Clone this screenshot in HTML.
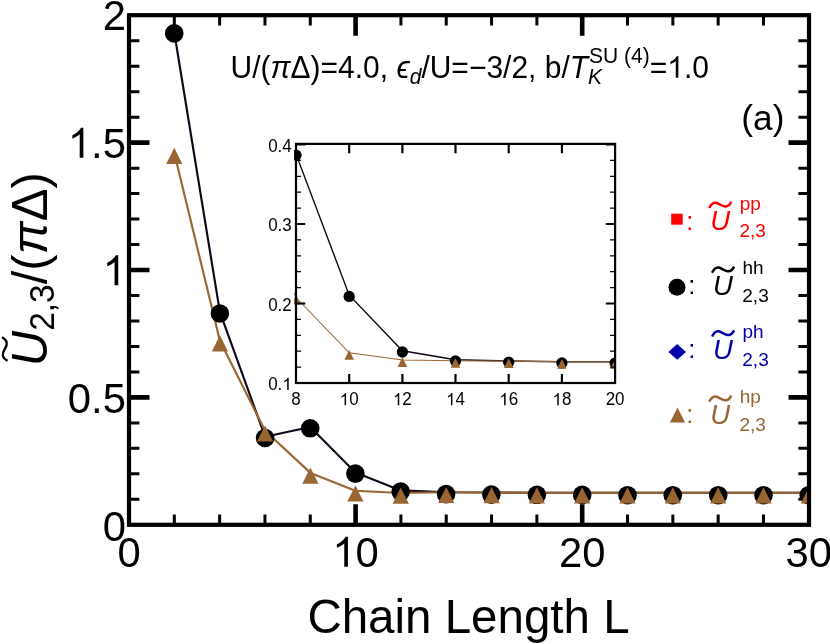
<!DOCTYPE html><html><head><meta charset="utf-8"><style>html,body{margin:0;padding:0;background:#fff}svg{display:block;will-change:transform}text{font-family:"Liberation Sans",sans-serif}</style></head><body>
<svg width="830" height="644" viewBox="0 0 830 644">
<rect width="830" height="644" fill="#fff"/>
<g stroke="#000" fill="none"><path d="M174.32 524.8V514.5M174.32 15.2V25.6" stroke-width="3"/><path d="M219.64 524.8V514.5M219.64 15.2V25.6" stroke-width="3"/><path d="M264.96 524.8V514.5M264.96 15.2V25.6" stroke-width="3"/><path d="M310.28 524.8V514.5M310.28 15.2V25.6" stroke-width="3"/><path d="M355.60 524.8V504.29999999999995M355.60 15.2V35.7" stroke-width="4.6"/><path d="M400.92 524.8V514.5M400.92 15.2V25.6" stroke-width="3"/><path d="M446.24 524.8V514.5M446.24 15.2V25.6" stroke-width="3"/><path d="M491.56 524.8V514.5M491.56 15.2V25.6" stroke-width="3"/><path d="M536.88 524.8V514.5M536.88 15.2V25.6" stroke-width="3"/><path d="M582.20 524.8V504.29999999999995M582.20 15.2V35.7" stroke-width="4.6"/><path d="M627.52 524.8V514.5M627.52 15.2V25.6" stroke-width="3"/><path d="M672.84 524.8V514.5M672.84 15.2V25.6" stroke-width="3"/><path d="M718.16 524.8V514.5M718.16 15.2V25.6" stroke-width="3"/><path d="M763.48 524.8V514.5M763.48 15.2V25.6" stroke-width="3"/><path d="M129 499.32H139.4M809 499.32H798.4" stroke-width="3"/><path d="M129 473.85H139.4M809 473.85H798.4" stroke-width="3"/><path d="M129 448.37H139.4M809 448.37H798.4" stroke-width="3"/><path d="M129 422.90H139.4M809 422.90H798.4" stroke-width="3"/><path d="M129 397.42H149.5M809 397.42H788.5" stroke-width="4.6"/><path d="M129 371.95H139.4M809 371.95H798.4" stroke-width="3"/><path d="M129 346.47H139.4M809 346.47H798.4" stroke-width="3"/><path d="M129 321.00H139.4M809 321.00H798.4" stroke-width="3"/><path d="M129 295.52H139.4M809 295.52H798.4" stroke-width="3"/><path d="M129 270.05H149.5M809 270.05H788.5" stroke-width="4.6"/><path d="M129 244.57H139.4M809 244.57H798.4" stroke-width="3"/><path d="M129 219.10H139.4M809 219.10H798.4" stroke-width="3"/><path d="M129 193.62H139.4M809 193.62H798.4" stroke-width="3"/><path d="M129 168.15H139.4M809 168.15H798.4" stroke-width="3"/><path d="M129 142.67H149.5M809 142.67H788.5" stroke-width="4.6"/><path d="M129 117.20H139.4M809 117.20H798.4" stroke-width="3"/><path d="M129 91.72H139.4M809 91.72H798.4" stroke-width="3"/><path d="M129 66.25H139.4M809 66.25H798.4" stroke-width="3"/><path d="M129 40.77H139.4M809 40.77H798.4" stroke-width="3"/></g>
<clipPath id="cm"><rect x="127" y="13" width="684" height="514"/></clipPath>
<g clip-path="url(#cm)">
<polyline fill="none" stroke="#10061a" stroke-width="2.15" stroke-linejoin="round" points="174.2,32.0 219.9,312.2 265.1,436.8 310.2,427.0 355.4,472.4 400.7,490.4 446.2,492.3 491.6,492.5 536.9,492.7 582.2,492.7 627.5,492.7 672.8,492.7 718.2,492.7 763.5,492.7 808.8,492.7"/>
<polyline fill="none" stroke="#996633" stroke-width="2.15" stroke-linejoin="round" points="174.3,153.1 219.9,340.7 265.1,430.8 310.4,472.9 355.4,490.8 400.7,493.0 446.2,492.3 491.6,492.5 536.9,492.7 582.2,492.7 627.5,492.7 672.8,492.7 718.2,492.7 763.5,492.7 808.8,492.7"/>
<circle cx="174.2" cy="33.4" r="9.3" fill="#000"/>
<circle cx="219.9" cy="313.5" r="9.3" fill="#000"/>
<circle cx="265.1" cy="438.0" r="9.3" fill="#000"/>
<circle cx="310.2" cy="428.3" r="9.3" fill="#000"/>
<circle cx="355.4" cy="473.6" r="9.3" fill="#000"/>
<circle cx="400.7" cy="491.6" r="9.3" fill="#000"/>
<circle cx="446.1" cy="494.1" r="9.3" fill="#000"/>
<circle cx="491.4" cy="494.6" r="9.3" fill="#000"/>
<circle cx="536.9" cy="494.8" r="9.3" fill="#000"/>
<circle cx="582.2" cy="494.9" r="9.3" fill="#000"/>
<circle cx="627.5" cy="495.2" r="9.3" fill="#000"/>
<circle cx="672.8" cy="495.2" r="9.3" fill="#000"/>
<circle cx="718.2" cy="495.2" r="9.3" fill="#000"/>
<circle cx="763.5" cy="495.2" r="9.3" fill="#000"/>
<circle cx="808.8" cy="495.2" r="9.3" fill="#000"/>
<path d="M174.3 147.7l8.1 16.2h-16.2z" fill="#996633"/>
<path d="M219.9 335.3l8.1 16.2h-16.2z" fill="#996633"/>
<path d="M265.1 425.4l8.1 16.2h-16.2z" fill="#996633"/>
<path d="M310.4 467.5l8.1 16.2h-16.2z" fill="#996633"/>
<path d="M355.4 485.4l8.1 16.2h-16.2z" fill="#996633"/>
<path d="M400.7 487.6l8.1 16.2h-16.2z" fill="#996633"/>
<path d="M446.2 486.9l8.1 16.2h-16.2z" fill="#996633"/>
<path d="M491.6 487.1l8.1 16.2h-16.2z" fill="#996633"/>
<path d="M536.9 487.3l8.1 16.2h-16.2z" fill="#996633"/>
<path d="M582.2 487.3l8.1 16.2h-16.2z" fill="#996633"/>
<path d="M627.5 487.3l8.1 16.2h-16.2z" fill="#996633"/>
<path d="M672.8 487.3l8.1 16.2h-16.2z" fill="#996633"/>
<path d="M718.2 487.3l8.1 16.2h-16.2z" fill="#996633"/>
<path d="M763.5 487.3l8.1 16.2h-16.2z" fill="#996633"/>
<path d="M808.8 487.3l8.1 16.2h-16.2z" fill="#996633"/>
</g>
<rect x="129" y="15.2" width="680" height="509.6" fill="none" stroke="#000" stroke-width="4.2"/>
<text transform="translate(129.00,566.80) scale(1,1.03)" font-size="41.8" text-anchor="middle">0</text>
<text transform="translate(582.20,566.80) scale(1,1.03)" font-size="41.8" text-anchor="middle">20</text>
<text transform="translate(808.80,566.80) scale(1,1.03)" font-size="41.8" text-anchor="middle">30</text>
<path transform="translate(332.36,566.80) scale(0.02041,-0.02041)" d="M763 0H583V1147Q518 1085 412.5 1023Q307 961 223 930V1104Q374 1175 487 1276Q600 1377 647 1472H763Z" fill="#000"/>
<text transform="translate(355.60,566.80) scale(1,1.03)" font-size="41.8" text-anchor="start">0</text>
<text transform="translate(125.90,540.50) scale(1,1.03)" font-size="41.8" text-anchor="end">0</text>
<text transform="translate(125.90,413.12) scale(1,1.03)" font-size="41.8" text-anchor="end">0.5</text>
<text transform="translate(125.90,30.10) scale(1,1.03)" font-size="41.8" text-anchor="end">2</text>
<path transform="translate(102.66,285.35) scale(0.02041,-0.02041)" d="M763 0H583V1147Q518 1085 412.5 1023Q307 961 223 930V1104Q374 1175 487 1276Q600 1377 647 1472H763Z" fill="#000"/>
<path transform="translate(67.80,157.67) scale(0.02041,-0.02041)" d="M763 0H583V1147Q518 1085 412.5 1023Q307 961 223 930V1104Q374 1175 487 1276Q600 1377 647 1472H763Z" fill="#000"/>
<text transform="translate(125.90,157.67) scale(1,1.03)" font-size="41.8" text-anchor="end">.5</text>
<text x="468.5" y="633.2" font-size="47.5" text-anchor="middle">Chain Length L</text>
<g transform="translate(46.8,366.2) rotate(-90)"><text transform="scale(1,1.035)" font-size="49"><tspan font-style="italic">U</tspan><tspan font-size="33.5" dy="7.000">2,3</tspan><tspan dy="-7.000">/(</tspan><tspan font-style="italic" dx="0">π</tspan><tspan dx="0.3">Δ</tspan>)</text><path d="M5.400 -39.200c2.700-5.800 7.200-5.800 11.800-2.800s8.800 3 11.800-2.800" fill="none" stroke="#000" stroke-width="2.3"/></g>
<text transform="translate(230.5,77.7) scale(1,1.035)" font-size="30">U/(<tspan font-style="italic">π</tspan>Δ)=4.0, <tspan font-style="italic">ϵ</tspan><tspan font-style="italic" font-size="21" dy="6.300">d</tspan><tspan dy="-6.300">/U=−3/2, b/</tspan><tspan font-style="italic">T</tspan><tspan font-style="italic" font-size="21" dy="6.500">K</tspan><tspan font-size="21" dy="-20.300" dx="-13">SU (4)</tspan><tspan dy="13.800">=</tspan></text>
<path transform="translate(667.22,77.70) scale(0.01465,-0.01450)" d="M763 0H583V1147Q518 1085 412.5 1023Q307 961 223 930V1104Q374 1175 487 1276Q600 1377 647 1472H763Z" fill="#000"/>
<text transform="translate(683.89,77.7) scale(1,1.035)" font-size="30">.0</text>
<text x="741.3" y="129.9" font-size="35.3">(a)</text>
<rect x="671.2" y="213.7" width="11.5" height="11" fill="#ff0000"/><text x="686.3" y="229.5" font-size="25.5" fill="#ff0000">:</text><text x="710.2" y="229.9" font-size="27.5" font-style="italic" fill="#ff0000">U</text><path transform="translate(709.3,208.0)" d="M0 0c1.800-4.100 4.200-5.700 6.600-5.300s5.500 3.200 9 3.700s4.800-1.400 6.400-4.600" fill="none" stroke="#ff0000" stroke-width="2.5"/><text x="739.7" y="209.6" font-size="19" fill="#ff0000">pp</text><text x="739.5" y="237.2" font-size="19" fill="#ff0000">2,3</text>
<circle cx="677" cy="287.2" r="8.5" fill="#000"/><text x="688.3" y="294.3" font-size="25.5" fill="#000">:</text><text x="713.0" y="294.7" font-size="27.5" font-style="italic" fill="#000">U</text><path transform="translate(712.1,272.8)" d="M0 0c1.800-4.100 4.200-5.700 6.600-5.300s5.500 3.200 9 3.700s4.800-1.400 6.400-4.600" fill="none" stroke="#000" stroke-width="2.5"/><text x="742.5" y="274.4" font-size="19" fill="#000">hh</text><text x="742.3" y="302.0" font-size="19" fill="#000">2,3</text>
<path d="M668.3 351.9L677.2 344L686 351.9L677.2 359.800z" fill="#0000aa"/><text x="688.3" y="358.1" font-size="25.5" fill="#0000aa">:</text><text x="713.0" y="358.5" font-size="27.5" font-style="italic" fill="#0000aa">U</text><path transform="translate(712.1,336.6)" d="M0 0c1.800-4.100 4.200-5.700 6.600-5.300s5.500 3.200 9 3.700s4.800-1.400 6.400-4.600" fill="none" stroke="#0000aa" stroke-width="2.5"/><text x="742.5" y="338.2" font-size="19" fill="#0000aa">ph</text><text x="742.3" y="365.8" font-size="19" fill="#0000aa">2,3</text>
<path d="M677.5 407.600L685.1 422.400H669.900z" fill="#996633"/><text x="686.3" y="423.3" font-size="25.5" fill="#996633">:</text><text x="710.2" y="423.7" font-size="27.5" font-style="italic" fill="#996633">U</text><path transform="translate(709.3,401.8)" d="M0 0c1.800-4.100 4.200-5.700 6.600-5.300s5.500 3.200 9 3.700s4.800-1.400 6.400-4.600" fill="none" stroke="#996633" stroke-width="2.5"/><text x="739.7" y="403.4" font-size="19" fill="#996633">hp</text><text x="739.5" y="431.0" font-size="19" fill="#996633">2,3</text>
<rect x="296.0" y="143.9" width="319.1" height="239.1" fill="#fff"/>
<clipPath id="ci"><rect x="294.1" y="142" width="321.5" height="242.0"/></clipPath>
<g clip-path="url(#ci)">
<polyline fill="none" stroke="#10061a" stroke-width="1.4" points="242.8,191.4 296.0,154.0 349.2,295.2 402.4,350.8 455.5,359.8 508.7,361.0 561.9,361.7 615.1,361.9"/>
<polyline fill="none" stroke="#996633" stroke-width="1.05" points="242.8,176.3 296.0,297.5 349.2,352.8 402.4,359.9 455.5,360.7 508.7,361.1 561.9,361.7 615.1,361.9"/>
<circle cx="296.0" cy="155.2" r="5.65" fill="#000"/>
<circle cx="349.2" cy="296.4" r="5.65" fill="#000"/>
<circle cx="402.4" cy="352.0" r="5.65" fill="#000"/>
<circle cx="455.5" cy="361.0" r="5.65" fill="#000"/>
<circle cx="508.7" cy="362.2" r="5.65" fill="#000"/>
<circle cx="561.9" cy="362.9" r="5.65" fill="#000"/>
<circle cx="615.1" cy="363.1" r="5.65" fill="#000"/>
<path d="M296.0 294.7l4.8 9.800h-9.600z" fill="#996633"/>
<path d="M349.2 350.0l4.8 9.800h-9.600z" fill="#996633"/>
<path d="M402.4 357.1l4.8 9.800h-9.600z" fill="#996633"/>
<path d="M455.5 357.9l4.8 9.800h-9.600z" fill="#996633"/>
<path d="M508.7 358.3l4.8 9.800h-9.600z" fill="#996633"/>
<path d="M561.9 358.9l4.8 9.800h-9.600z" fill="#996633"/>
<path d="M615.1 359.1l4.8 9.800h-9.600z" fill="#996633"/>
</g>
<g stroke="#000" fill="none"><path d="M349.2 383.0V374.0M349.2 143.9V153.3" stroke-width="2.2"/><path d="M402.4 383.0V374.0M402.4 143.9V153.3" stroke-width="2.2"/><path d="M455.5 383.0V374.0M455.5 143.9V153.3" stroke-width="2.2"/><path d="M508.7 383.0V374.0M508.7 143.9V153.3" stroke-width="2.2"/><path d="M561.9 383.0V374.0M561.9 143.9V153.3" stroke-width="2.2"/><path d="M296.0 367.1H301.0M615.1 367.1H610.1" stroke-width="1.2"/><path d="M296.0 351.2H301.0M615.1 351.2H610.1" stroke-width="1.2"/><path d="M296.0 335.3H301.0M615.1 335.3H610.1" stroke-width="1.2"/><path d="M296.0 319.4H301.0M615.1 319.4H610.1" stroke-width="1.2"/><path d="M296.0 303.5H305.3M615.1 303.5H605.8" stroke-width="2.2"/><path d="M296.0 287.6H301.0M615.1 287.6H610.1" stroke-width="1.2"/><path d="M296.0 271.7H301.0M615.1 271.7H610.1" stroke-width="1.2"/><path d="M296.0 255.8H301.0M615.1 255.8H610.1" stroke-width="1.2"/><path d="M296.0 239.9H301.0M615.1 239.9H610.1" stroke-width="1.2"/><path d="M296.0 224.0H305.3M615.1 224.0H605.8" stroke-width="2.2"/><path d="M296.0 208.1H301.0M615.1 208.1H610.1" stroke-width="1.2"/><path d="M296.0 192.2H301.0M615.1 192.2H610.1" stroke-width="1.2"/><path d="M296.0 176.3H301.0M615.1 176.3H610.1" stroke-width="1.2"/><path d="M296.0 160.4H301.0M615.1 160.4H610.1" stroke-width="1.2"/><path d="M296.0 144.5H305.3M615.1 144.5H605.8" stroke-width="2.2"/></g>
<rect x="296.0" y="143.9" width="319.1" height="239.1" fill="none" stroke="#000" stroke-width="2.2"/>
<text transform="translate(296.00,405.30) scale(1,1.03)" font-size="17" text-anchor="middle">8</text>
<path transform="translate(339.73,405.30) scale(0.00830,-0.00830)" d="M763 0H583V1147Q518 1085 412.5 1023Q307 961 223 930V1104Q374 1175 487 1276Q600 1377 647 1472H763Z" fill="#000"/>
<text transform="translate(349.18,405.30) scale(1,1.03)" font-size="17" text-anchor="start">0</text>
<path transform="translate(392.91,405.30) scale(0.00830,-0.00830)" d="M763 0H583V1147Q518 1085 412.5 1023Q307 961 223 930V1104Q374 1175 487 1276Q600 1377 647 1472H763Z" fill="#000"/>
<text transform="translate(402.36,405.30) scale(1,1.03)" font-size="17" text-anchor="start">2</text>
<path transform="translate(446.09,405.30) scale(0.00830,-0.00830)" d="M763 0H583V1147Q518 1085 412.5 1023Q307 961 223 930V1104Q374 1175 487 1276Q600 1377 647 1472H763Z" fill="#000"/>
<text transform="translate(455.54,405.30) scale(1,1.03)" font-size="17" text-anchor="start">4</text>
<path transform="translate(499.27,405.30) scale(0.00830,-0.00830)" d="M763 0H583V1147Q518 1085 412.5 1023Q307 961 223 930V1104Q374 1175 487 1276Q600 1377 647 1472H763Z" fill="#000"/>
<text transform="translate(508.72,405.30) scale(1,1.03)" font-size="17" text-anchor="start">6</text>
<path transform="translate(552.45,405.30) scale(0.00830,-0.00830)" d="M763 0H583V1147Q518 1085 412.5 1023Q307 961 223 930V1104Q374 1175 487 1276Q600 1377 647 1472H763Z" fill="#000"/>
<text transform="translate(561.90,405.30) scale(1,1.03)" font-size="17" text-anchor="start">8</text>
<text transform="translate(615.08,405.30) scale(1,1.03)" font-size="17" text-anchor="middle">20</text>
<path transform="translate(282.35,390.00) scale(0.00830,-0.00830)" d="M763 0H583V1147Q518 1085 412.5 1023Q307 961 223 930V1104Q374 1175 487 1276Q600 1377 647 1472H763Z" fill="#000"/>
<text transform="translate(282.35,390.00) scale(1,1.03)" font-size="17" text-anchor="end">0.</text>
<text transform="translate(291.80,310.50) scale(1,1.03)" font-size="17" text-anchor="end">0.2</text>
<text transform="translate(291.80,231.00) scale(1,1.03)" font-size="17" text-anchor="end">0.3</text>
<text transform="translate(291.80,151.50) scale(1,1.03)" font-size="17" text-anchor="end">0.4</text>
</svg></body></html>
